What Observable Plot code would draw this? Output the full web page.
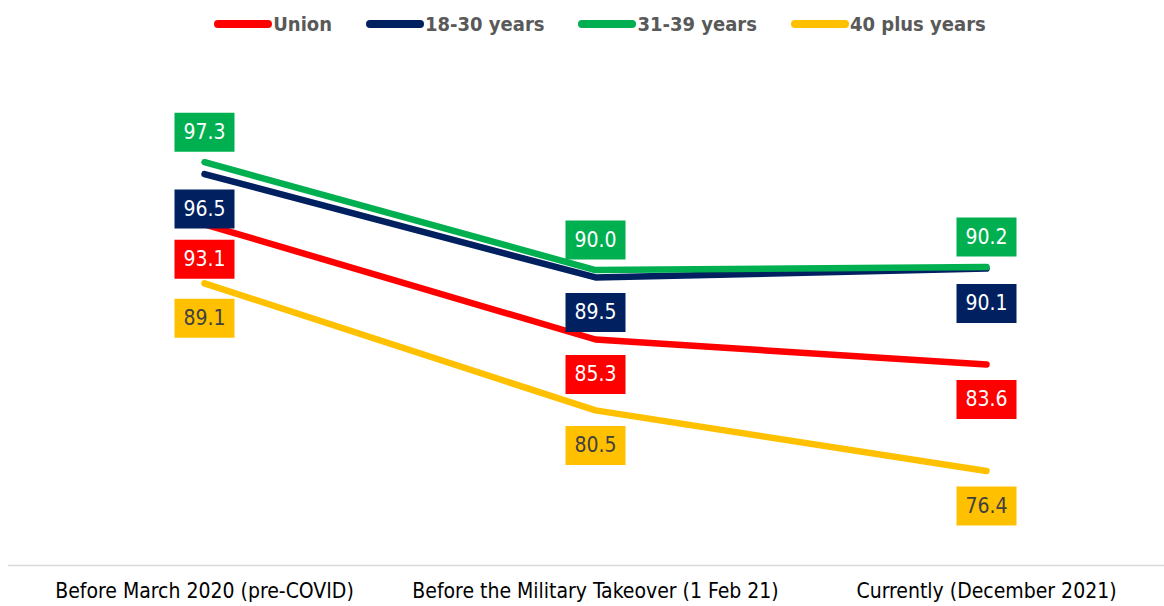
<!DOCTYPE html>
<html><head><meta charset="utf-8">
<script src="https://cdn.jsdelivr.net/npm/d3@7"></script>
<script src="https://cdn.jsdelivr.net/npm/@observablehq/plot@0.6"></script>
<style>
body{margin:0;background:#fff;font-family:"DejaVu Sans Condensed",sans-serif;}
#legend{height:48px;display:flex;align-items:center;justify-content:center;gap:34px;padding-left:36px;box-sizing:border-box;width:1164px;}
.item{display:flex;align-items:center;font-weight:bold;font-size:20px;color:#595959;}
.sw{width:58px;height:8px;border-radius:4px;margin-right:1px;}
</style></head><body>
<div id="legend"></div>
<div id="chart"></div>
<script>
const categories = ["Before March 2020 (pre-COVID)", "Before the Military Takeover (1 Feb 21)", "Currently (December 2021)"];
const seriesNames = ["Union", "18-30 years", "31-39 years", "40 plus years"];
const unionValues = [93.1, 85.3, 83.6];
const age1830Values = [96.5, 89.5, 90.1];
const age3139Values = [97.3, 90.0, 90.2];
const age40Values = [89.1, 80.5, 76.4];
const colors = ["#FF0000", "#002060", "#00B050", "#FFC000"];

const allValues = [unionValues, age1830Values, age3139Values, age40Values];
const rows = [];
seriesNames.forEach((s, i) => categories.forEach((c, j) => rows.push({series: s, cat: c, value: allValues[i][j]})));

const legend = document.getElementById("legend");
seriesNames.forEach((s, i) => {
  const it = document.createElement("div"); it.className = "item";
  const sw = document.createElement("div"); sw.className = "sw"; sw.style.background = colors[i];
  const t = document.createElement("span"); t.textContent = s;
  it.appendChild(sw); it.appendChild(t); legend.appendChild(it);
});

const box = {draw(ctx) { ctx.rect(-30, -19.5, 60, 39); }};
const above = rows.filter(d => d.series === "31-39 years");
const below = rows.filter(d => d.series !== "31-39 years");
const belowLight = below.filter(d => d.series !== "40 plus years");
const belowYellow = below.filter(d => d.series === "40 plus years");
const fmt = d => d.value.toFixed(1);

const chart = Plot.plot({
  width: 1164, height: 558,
  marginTop: 0, marginBottom: 41, marginLeft: 8, marginRight: 0,
  style: {fontFamily: '"DejaVu Sans Condensed",sans-serif', background: "#fff"},
  x: {type: "point", domain: categories, padding: 0.476, align: 0.523, label: null},
  y: {domain: [70, 105], axis: null},
  color: {domain: seriesNames, range: colors},
  marks: [
    Plot.ruleY([70], {stroke: "#d9d9d9", strokeWidth: 1.5}),
    Plot.axisX({tickSize: 0, tickPadding: 18, fontSize: 21, color: "#000", label: null}),
    Plot.line(rows, {x: "cat", y: "value", z: "series", stroke: "series", strokeWidth: 6.5, strokeLinecap: "round", strokeLinejoin: "round"}),
    Plot.dot(above, {x: "cat", y: "value", fill: "series", symbol: box, dy: -30}),
    Plot.dot(below, {x: "cat", y: "value", fill: "series", symbol: box, dy: 35}),
    Plot.text(above, {x: "cat", y: "value", text: fmt, dy: -30, fill: "white", fontSize: 21, lineAnchor: "middle"}),
    Plot.text(belowLight, {x: "cat", y: "value", text: fmt, dy: 35, fill: "white", fontSize: 21, lineAnchor: "middle"}),
    Plot.text(belowYellow, {x: "cat", y: "value", text: fmt, dy: 35, fill: "#404040", fontSize: 21, lineAnchor: "middle"})
  ]
});
document.getElementById("chart").appendChild(chart);
</script>
</body></html>
